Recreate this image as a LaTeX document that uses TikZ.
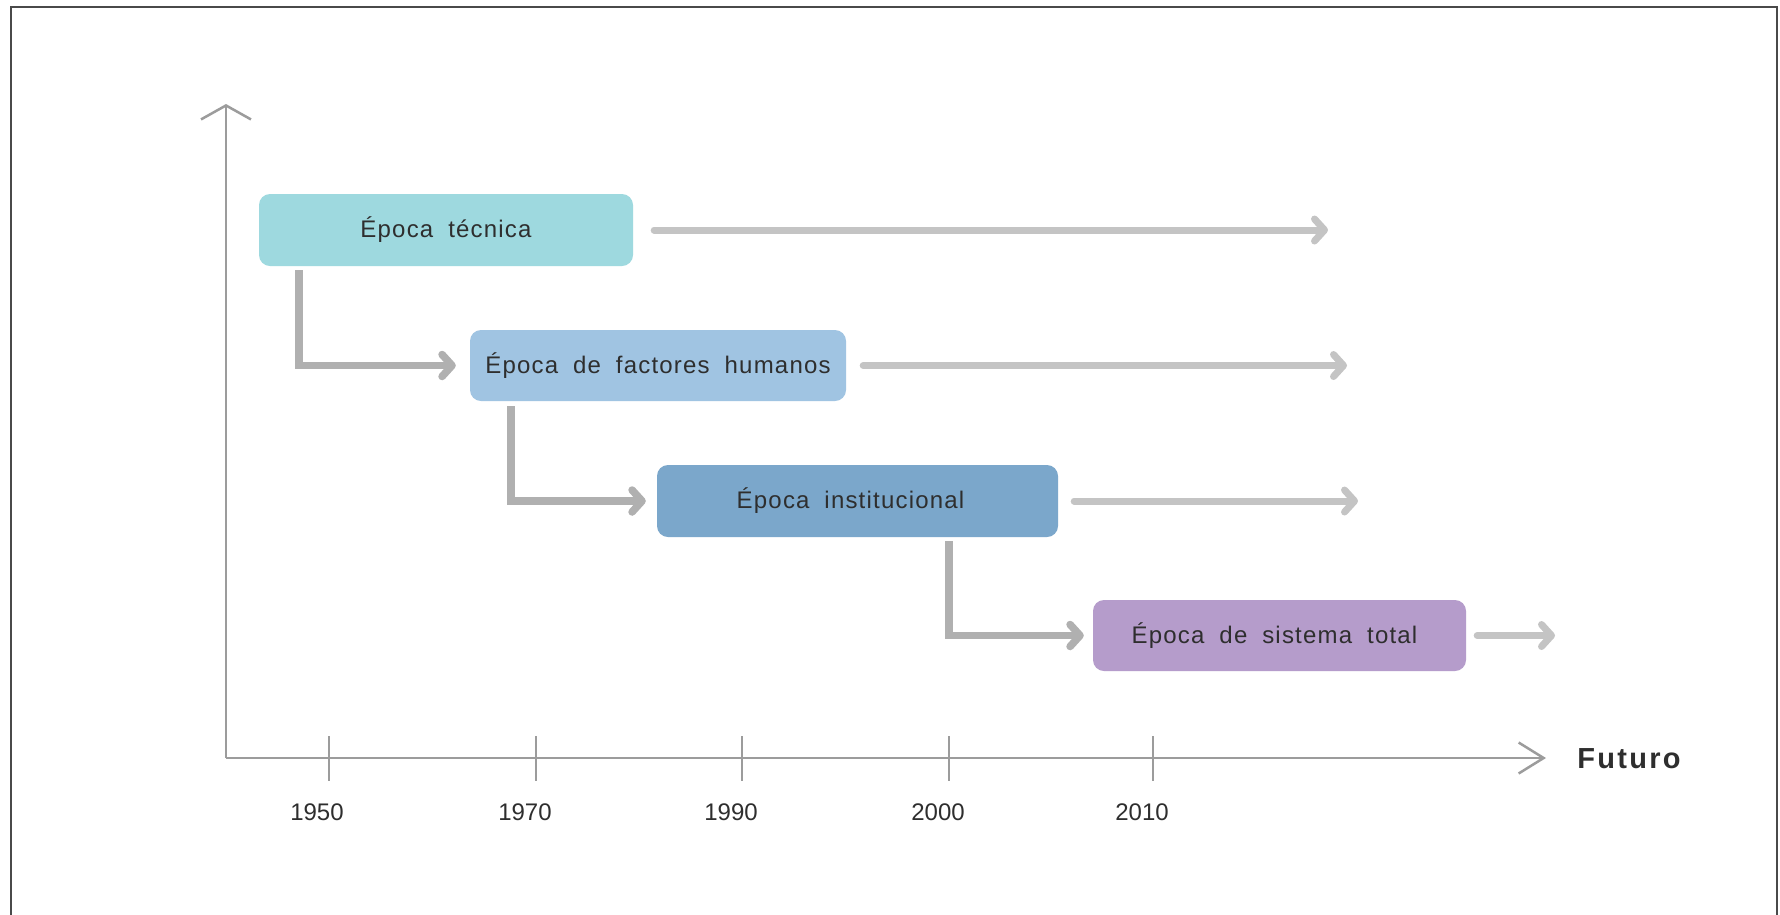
\documentclass[tikz,border=0pt]{standalone}
\usepackage{fontspec}
\setmainfont{Liberation Sans}
\newfontfamily\boxfont[LetterSpace=5,WordSpace=1.9]{Liberation Sans}
\newfontfamily\yearfont{Liberation Sans}
\newfontfamily\futfont[LetterSpace=8]{Liberation Sans}
\usetikzlibrary{arrows.meta,calc}
\definecolor{cOne}{HTML}{9ED9DF}
\definecolor{cTwo}{HTML}{A0C4E2}
\definecolor{cThree}{HTML}{7BA7CB}
\definecolor{cFour}{HTML}{B59CCB}
\definecolor{txt}{HTML}{2E2E2E}
\definecolor{axisgray}{HTML}{9C9C9C}
\definecolor{flowgray}{HTML}{C4C4C4}
\definecolor{elbowgray}{HTML}{B0B0B0}
\definecolor{framegray}{HTML}{4A4A4A}
\tikzset{
  epoch/.style={draw=none, rounded corners=11pt, inner sep=0pt, text=txt,
    font=\boxfont\fontsize{24}{28}\selectfont, anchor=center},
  flowarrow/.style={draw=flowgray, line width=7pt, line cap=round,
    -{Straight Barb[length=10pt,width=22pt,round]}},
  elbowarrow/.style={draw=elbowgray, line width=7.5pt, line join=miter, line cap=butt,
    -{Straight Barb[length=10pt,width=22pt,round]}},
  axisline/.style={draw=axisgray, line width=2.5pt},
  tickline/.style={draw=axisgray, line width=2.5pt},
  yearlabel/.style={text=txt, font=\yearfont\fontsize{24}{28}\selectfont, anchor=center, inner sep=0pt}
}
\begin{document}
\begin{tikzpicture}[x=1pt,y=-1pt]
\useasboundingbox (0,0) rectangle (1780,914);
\fill[white] (0,0) rectangle (1780,914);
% frame
\draw[framegray, line width=2.5pt] (11,7) rectangle (1777,930);

% axes
\coordinate (O) at (226,758);
\coordinate (Ytop) at (226,104);
\coordinate (Xend) at (1546,758);
\draw[axisline, -{Straight Barb[length=14pt,width=50pt]}] (O) -- (Ytop);
\draw[axisline, -{Straight Barb[length=25pt,width=31pt]}] (O) -- (Xend);

% ticks and years
\foreach \x/\lx/\yr [count=\i] in {329/317/1950, 536/525/1970, 742/731/1990, 949/938/2000, 1153/1142/2010}{
  \coordinate (t\i a) at (\x,736);
  \coordinate (t\i b) at (\x,781);
  \draw[tickline] (t\i a) -- (t\i b);
  \node[yearlabel] (y\i) at (\lx,812) {\yr};
}
\node[text=txt, font=\futfont\bfseries\fontsize{29}{33}\selectfont, anchor=center, inner sep=0pt] (fut) at (1629,759) {Futuro};

% epoch boxes
\node[epoch, fill=cOne, minimum width=374pt, minimum height=72pt] (b1) at (446,230) {Época técnica};
\node[epoch, fill=cTwo, minimum width=376pt, minimum height=71pt] (b2) at (658,365.5) {Época de factores humanos};
\node[epoch, fill=cThree, minimum width=401pt, minimum height=72pt] (b3) at (857.5,501) {\hspace*{-14pt}Época institucional};
\node[epoch, fill=cFour, minimum width=373pt, minimum height=71pt] (b4) at (1279.5,635.5) {\hspace*{-10pt}Época de sistema total};

% right flow arrows
\coordinate (e1) at (1328,230);
\coordinate (e2) at (1347,365.5);
\coordinate (e3) at (1358,501);
\coordinate (e4) at (1555,635.5);
\draw[flowarrow] ($(b1.east)+(21,0)$) -- (e1);
\draw[flowarrow] ($(b2.east)+(17,0)$) -- (e2);
\draw[flowarrow] ($(b3.east)+(16,0)$) -- (e3);
\draw[flowarrow] ($(b4.east)+(11,0)$) -- (e4);

% elbow arrows
\draw[elbowarrow] ($(b1.south west)+(40,4)$) |- ($(b2.west)+(-14,0)$);
\draw[elbowarrow] ($(b2.south west)+(41,5)$) |- ($(b3.west)+(-11,0)$);
\draw[elbowarrow] ($(b3.south west)+(292,4)$) |- ($(b4.west)+(-9,0)$);
\end{tikzpicture}
\end{document}
